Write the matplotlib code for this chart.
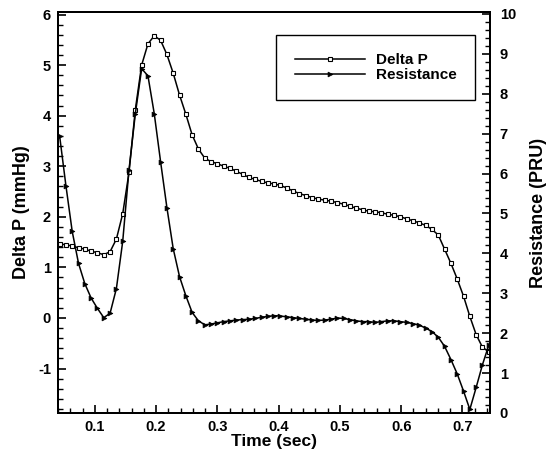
import matplotlib
matplotlib.use('Agg')
import matplotlib.pyplot as plt
from matplotlib.ticker import MultipleLocator

plt.rcParams['font.family'] = ['Liberation Sans', 'DejaVu Sans']
plt.rcParams['font.weight'] = 'bold'
plt.rcParams['axes.unicode_minus'] = False

# ---------------- data ----------------
time_sec = [0.0426, 0.0529, 0.0632, 0.0735, 0.0838, 0.0941, 0.1044, 0.1147, 0.1250, 0.1353,
            0.1456, 0.1559, 0.1662, 0.1765, 0.1868, 0.1971, 0.2074, 0.2177, 0.2280, 0.2383,
            0.2486, 0.2589, 0.2692, 0.2795, 0.2898, 0.3001, 0.3104, 0.3207, 0.3310, 0.3413,
            0.3516, 0.3619, 0.3722, 0.3825, 0.3928, 0.4031, 0.4134, 0.4237, 0.4340, 0.4443,
            0.4546, 0.4649, 0.4752, 0.4855, 0.4958, 0.5061, 0.5164, 0.5267, 0.5370, 0.5473,
            0.5576, 0.5679, 0.5782, 0.5885, 0.5988, 0.6091, 0.6194, 0.6297, 0.6400, 0.6503,
            0.6606, 0.6709, 0.6812, 0.6915, 0.7018, 0.7121, 0.7224, 0.7327, 0.7430, 0.7533]

delta_p = [1.46, 1.45, 1.42, 1.39, 1.36, 1.32, 1.29, 1.25, 1.31, 1.56,
           2.06, 2.88, 4.12, 5.00, 5.42, 5.58, 5.49, 5.21, 4.84, 4.41,
           4.03, 3.62, 3.34, 3.16, 3.09, 3.05, 3.00, 2.96, 2.90, 2.84,
           2.78, 2.74, 2.70, 2.67, 2.65, 2.62, 2.57, 2.51, 2.46, 2.42,
           2.38, 2.35, 2.33, 2.31, 2.28, 2.25, 2.21, 2.17, 2.14, 2.11,
           2.10, 2.08, 2.05, 2.03, 2.00, 1.96, 1.92, 1.88, 1.83, 1.75,
           1.64, 1.36, 1.08, 0.77, 0.43, 0.03, -0.33, -0.58, -0.67, -0.72]

resistance = [6.95, 5.70, 4.55, 3.75, 3.24, 2.88, 2.62, 2.39, 2.50, 3.12,
              4.30, 6.10, 7.50, 8.63, 8.45, 7.50, 6.30, 5.15, 4.12, 3.42,
              2.94, 2.52, 2.31, 2.21, 2.23, 2.26, 2.29, 2.31, 2.33, 2.34,
              2.35, 2.37, 2.40, 2.42, 2.44, 2.43, 2.41, 2.39, 2.37, 2.35,
              2.33, 2.32, 2.33, 2.35, 2.38, 2.37, 2.34, 2.31, 2.29, 2.29,
              2.27, 2.29, 2.31, 2.31, 2.29, 2.27, 2.24, 2.20, 2.13, 2.04,
              1.90, 1.67, 1.34, 0.98, 0.55, 0.09, 0.64, 1.21, 1.70, 2.10]

x_ticks = [0.1, 0.2, 0.3, 0.4, 0.5, 0.6, 0.7]
x_tick_labels = ['0.1', '0.2', '0.3', '0.4', '0.5', '0.6', '0.7']
left_ticks = [-1, 0, 1, 2, 3, 4, 5, 6]
right_ticks = [0, 1, 2, 3, 4, 5, 6, 7, 8, 9, 10]

series_names = ['Delta P', 'Resistance']
x_label = 'Time (sec)'
left_label = 'Delta P (mmHg)'
right_label = 'Resistance (PRU)'

# ---------------- figure ----------------
W, H = 547, 453
fig = plt.figure(figsize=(W / 100, H / 100), dpi=100)
ax = fig.add_axes([58 / W, 1 - 413 / H, 432 / W, 401 / H])
ax2 = ax.twinx()

l1, = ax.plot(time_sec, delta_p, color='black', lw=1.1, marker='s', ms=3.3,
              mfc='white', mec='black', mew=0.8, label=series_names[0], zorder=3)
l2, = ax2.plot(time_sec, resistance, color='black', lw=1.1, marker='>', ms=3.5,
               mfc='black', mec='black', mew=0.5, label=series_names[1], zorder=3)

ax.set_xlim(0.04, 0.745)
ax.set_ylim(-1.88, 6.05)
ax2.set_ylim(0, 10.05)

ax.set_xticks(x_ticks)
ax.set_xticklabels(x_tick_labels)
ax.set_yticks(left_ticks)
ax2.set_yticks(right_ticks)
ax.xaxis.set_minor_locator(MultipleLocator(0.02))
ax.yaxis.set_minor_locator(MultipleLocator(0.2))
ax2.yaxis.set_minor_locator(MultipleLocator(0.2))

for a in (ax, ax2):
    for s in a.spines.values():
        s.set_linewidth(1.4)

ax.tick_params(axis='both', which='major', direction='in', length=6, width=1.2,
               labelsize=10.5, top=False, right=False)
ax.tick_params(axis='both', which='minor', direction='in', length=3.5, width=1.0,
               top=False, right=False)
ax.tick_params(axis='x', which='major', pad=5)
ax.tick_params(axis='y', which='major', pad=5)
ax2.tick_params(axis='y', which='major', direction='in', length=6, width=1.2,
                labelsize=10.5, pad=7)
ax2.tick_params(axis='y', which='minor', direction='in', length=3.5, width=1.0)

for lab in ax.get_xticklabels() + ax.get_yticklabels() + ax2.get_yticklabels():
    lab.set_fontweight('bold')

ax.set_xlabel(x_label, fontsize=12.5, fontweight='bold', va='center')
ax.xaxis.set_label_coords(0.5, -0.072)
ax.set_ylabel(left_label, fontsize=13, fontweight='bold', labelpad=6)
ax2.set_ylabel(right_label, fontsize=13, fontweight='bold', labelpad=10)

leg = ax2.legend([l1, l2], series_names, loc='center', bbox_to_anchor=(0.735, 0.861),
                 frameon=True, fancybox=False, edgecolor='black', framealpha=1,
                 borderpad=1.2, handlelength=4.6, handletextpad=0.72,
                 labelspacing=0.05, numpoints=1,
                 prop={'size': 11, 'weight': 'bold', 'family': ['Liberation Sans', 'DejaVu Sans']})
leg.get_frame().set_linewidth(1.0)

fig.savefig('out.png', dpi=100)
